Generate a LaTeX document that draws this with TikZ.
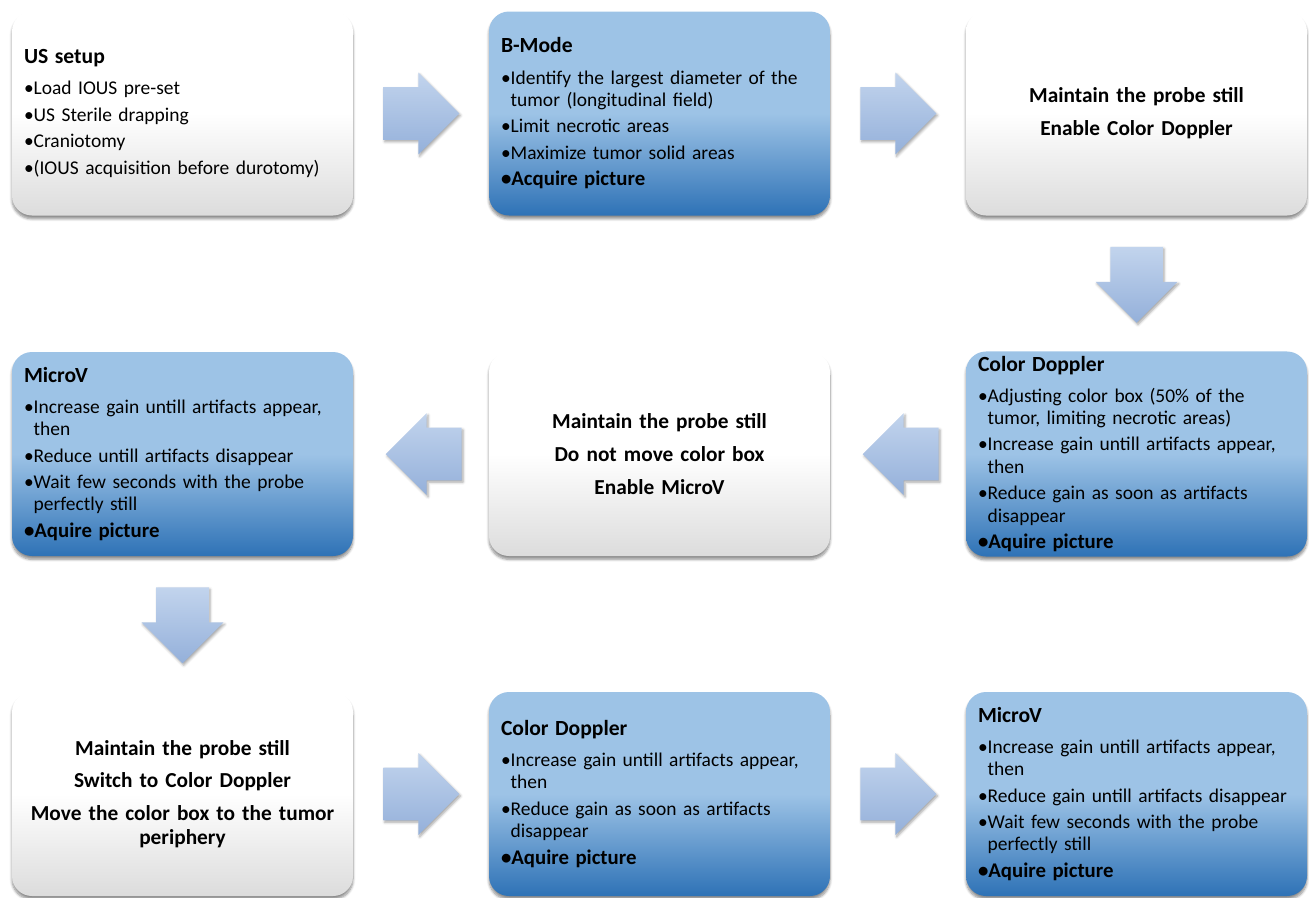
\documentclass[tikz,border=0pt]{standalone}
\usepackage{fontspec}
\setmainfont{Carlito}
\usetikzlibrary{shapes.arrows,shadows.blur,calc}

\definecolor{boxblue}{RGB}{157,195,230}
\definecolor{boxdeep}{RGB}{46,114,182}
\definecolor{boxgray}{RGB}{220,220,220}
\definecolor{arrowtop}{RGB}{194,212,237}
\definecolor{arrowbot}{RGB}{148,176,218}

\newcommand\stephead[1]{{\fontsize{16.2}{18}\selectfont\bfseries #1\par}\vspace{3.5pt}}
\newcommand\stepitem[1]{\par\setbox0\hbox{\textbullet}\hangindent=\wd0 \hangafter=1 \noindent\box0 #1}
\newcommand\stepbold[1]{\par{\fontsize{15.6}{17}\selectfont\bfseries\textbullet#1\par}}

\tikzset{
  stepbox/.style={rounded corners=15pt, minimum width=255.75pt, minimum height=153pt,
    text width=237.75pt, inner xsep=9pt, font=\fontsize{14.6}{16.8}\selectfont,
    blur shadow={shadow xshift=0pt, shadow yshift=-2.5pt, shadow blur steps=6, shadow opacity=45}},
  listbox/.style={stepbox, align=left, execute at begin node=\setlength{\parskip}{3pt}},
  whitelist/.style={listbox, top color=white, bottom color=boxgray, middle color=white},
  bluelist/.style={listbox, top color=boxblue, bottom color=boxdeep, middle color=boxblue},
  notebox/.style={stepbox, align=center, top color=white, bottom color=boxgray, middle color=white,
    font=\fontsize{16}{18}\selectfont\bfseries, execute at begin node=\setlength{\parskip}{6.5pt}},
  flow/.style={single arrow, single arrow head extend=11pt, minimum height=57pt, anchor=tail,
    inner xsep=0pt, inner ysep=19.5pt, top color=arrowtop, bottom color=arrowbot,
    blur shadow={shadow xshift=1pt, shadow yshift=-1.5pt, shadow blur steps=4, shadow opacity=35}},
  flowleft/.style={flow, shape border rotate=180},
  flowdown/.style={flow, shape border rotate=270, inner xsep=19.5pt, inner ysep=0pt}
}

\begin{document}
\begin{tikzpicture}[x=0.75pt,y=-0.75pt]
  \useasboundingbox (0,0) rectangle (1309,897);

  % first row
  \node[whitelist] (setup) at (182.5,113.5) {\stephead{US setup}
    \stepitem{Load IOUS pre-set}
    \stepitem{US Sterile drapping}
    \stepitem{Craniotomy}
    \stepitem{(IOUS acquisition before durotomy)}};
  \node[bluelist] (bmode) at (659.5,113.5) {\stephead{B-Mode}
    \stepitem{Identify the largest diameter of the\newline tumor (longitudinal field)}
    \stepitem{Limit necrotic areas}
    \stepitem{Maximize tumor solid areas}
    \stepbold{Acquire picture}};
  \node[notebox] (still1) at (1136.5,113.5) {Maintain the probe still\par
    Enable Color Doppler};

  % second row
  \node[bluelist] (cdop1) at (1136.5,454) {\stephead{Color Doppler}
    \stepitem{Adjusting color box (50\% of the\newline tumor, limiting necrotic areas)}
    \stepitem{Increase gain untill artifacts appear,\newline then}
    \stepitem{Reduce gain as soon as artifacts\newline disappear}
    \stepbold{Aquire picture}};
  \node[notebox] (still2) at (659.5,454) {Maintain the probe still\par
    Do not move color box\par
    Enable MicroV};
  \node[bluelist] (microv1) at (182.5,454) {\stephead{MicroV}
    \stepitem{Increase gain untill artifacts appear,\newline then}
    \stepitem{Reduce untill artifacts disappear}
    \stepitem{Wait few seconds with the probe\newline perfectly still}
    \stepbold{Aquire picture}};

  % third row
  \node[notebox] (still3) at (182.5,794) {Maintain the probe still\par
    Switch to Color Doppler\par
    Move the color box to the tumor\\ periphery};
  \node[bluelist] (cdop2) at (659.5,794) {\stephead{Color Doppler}
    \stepitem{Increase gain untill artifacts appear,\newline then}
    \stepitem{Reduce gain as soon as artifacts\newline disappear}
    \stepbold{Aquire picture}};
  \node[bluelist] (microv2) at (1136.5,794) {\stephead{MicroV}
    \stepitem{Increase gain untill artifacts appear,\newline then}
    \stepitem{Reduce gain untill artifacts disappear}
    \stepitem{Wait few seconds with the probe\newline perfectly still}
    \stepbold{Aquire picture}};

  % block arrows, placed by their tails
  \node[flow] (go1) at ($(setup.east)!0.5!(bmode.west)+(-38,0)$) {};
  \node[flow] (go2) at ($(bmode.east)!0.5!(still1.west)+(-38,0)$) {};
  \node[flowdown] (go3) at ($(still1.south)!0.5!(cdop1.north)+(0,-37)$) {};
  \node[flowleft] (go4) at ($(cdop1.west)!0.5!(still2.east)+(41,0)$) {};
  \node[flowleft] (go5) at ($(still2.west)!0.5!(microv1.east)+(41,0)$) {};
  \node[flowdown] (go6) at ($(microv1.south)!0.5!(still3.north)+(0,-37)$) {};
  \node[flow] (go7) at ($(still3.east)!0.5!(cdop2.west)+(-38,0)$) {};
  \node[flow] (go8) at ($(cdop2.east)!0.5!(microv2.west)+(-38,0)$) {};
\end{tikzpicture}
\end{document}
